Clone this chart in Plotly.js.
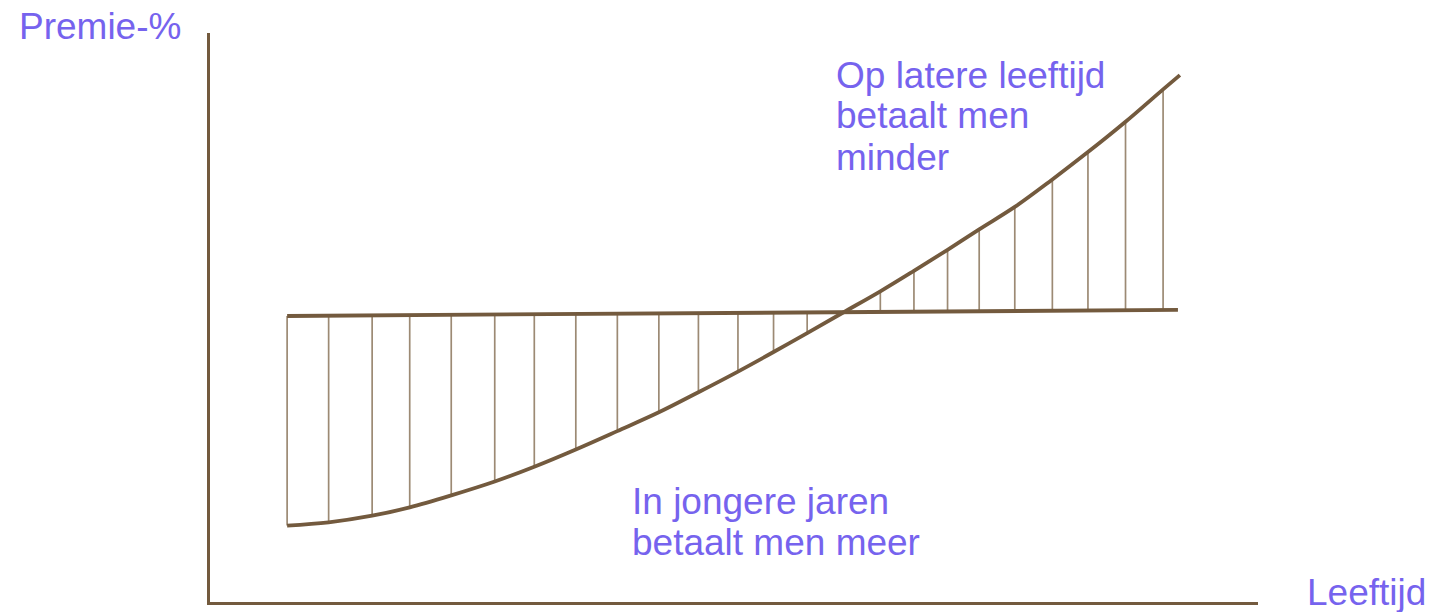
<!DOCTYPE html>
<html>
<head>
<meta charset="utf-8">
<script src="https://cdn.plot.ly/plotly-3.0.1.min.js"></script>
<style>
    body { margin: 0; background: #ffffff; }
    #chart { width: 1437px; height: 612px; }
</style>
</head>
<body>
<div id="chart"></div>
<script>
// premium curve (age in years, premium %)
const ages = [19.9, 22.0, 24.2, 26.1, 28.2, 30.4, 32.4, 34.5, 36.6, 38.7, 40.7, 42.7, 44.5, 46.2,
              48.0, 49.9, 51.6, 53.3, 54.9, 56.7, 58.6, 60.4, 62.3, 64.2, 65.05];
const premie = [4.03, 4.20, 4.55, 4.99, 5.62, 6.35, 7.13, 8.04, 9.01, 10.00, 11.06, 12.15, 13.18, 14.18,
                15.25, 16.38, 17.46, 18.57, 19.65, 20.83, 22.28, 23.72, 25.32, 27.03, 27.78];

// flat (average) premium line
const levelAges = [19.9, 64.95];
const level = [15.08, 15.40];

// ages where the hatch lines are drawn
const hatchAges = [19.9, 22.0, 24.2, 26.1, 28.2, 30.4, 32.4, 34.5, 36.6, 38.7, 40.7, 42.7, 44.5, 46.2,
                   49.9, 51.6, 53.3, 54.9, 56.7, 58.6, 60.4, 62.3, 64.2];

// texts
const yLabel = "Premie-%";
const xLabel = "Leeftijd";
const laterText = ["Op latere leeftijd", "betaalt men", "minder"];
const youngText = ["In jongere jaren", "betaalt men meer"];

const brown = "#735a3e";
const hatchColor = "#9c8a74";
const textColor = "#7663ee";

// flat line value at a given age
function levelAt(a)
{
    let t = (a - levelAges[0]) / (levelAges[1] - levelAges[0]);
    return level[0] + t * (level[1] - level[0]);
}

// build the hatch segments, separated by nulls
let hx = [];
let hy = [];
hatchAges.forEach(a => {
    let i = ages.indexOf(a);
    hx.push(a, a, null);
    hy.push(premie[i], levelAt(a), null);
});

let hatch = {
    x: hx, y: hy, mode: "lines", type: "scatter",
    line: {color: hatchColor, width: 1.7},
    hoverinfo: "skip"
};

let flat = {
    x: levelAges, y: level, mode: "lines", type: "scatter",
    line: {color: brown, width: 3.8}
};

let curve = {
    x: ages, y: premie, mode: "lines", type: "scatter",
    line: {color: brown, width: 3.8, shape: "spline", smoothing: 1}
};

// plot area in page pixels
const areaLeft = 210, areaRight = 1258, areaTop = 33, areaBottom = 602;

// page pixel -> paper coordinates for the text
function px(x) { return (x - areaLeft) / (areaRight - areaLeft); }
function py(y) { return (areaBottom - y) / (areaBottom - areaTop); }

function label(text, x, y)
{
    return {
        text: text, xref: "paper", yref: "paper",
        x: px(x), y: py(y), xanchor: "left", yanchor: "middle",
        showarrow: false,
        font: {family: "Liberation Sans, Arial, sans-serif", size: 37, color: textColor}
    };
}

let annotations = [
    label(yLabel, 17, 26.5),
    label(xLabel, 1305, 592)
];
laterText.forEach((t, i) => annotations.push(label(t, 834, 75 + i * 41)));
youngText.forEach((t, i) => annotations.push(label(t, 630, 501.5 + i * 41)));

let layout = {
    width: 1437,
    height: 612,
    margin: {l: areaLeft, r: 1437 - areaRight, t: areaTop, b: 612 - areaBottom, pad: 0},
    paper_bgcolor: "#ffffff",
    plot_bgcolor: "#ffffff",
    showlegend: false,
    xaxis: {
        range: [16, 69], showline: true, linecolor: brown, linewidth: 3,
        showgrid: false, zeroline: false, showticklabels: false, ticks: ""
    },
    yaxis: {
        range: [0, 30], showline: true, linecolor: brown, linewidth: 3,
        showgrid: false, zeroline: false, showticklabels: false, ticks: ""
    },
    annotations: annotations
};

Plotly.newPlot("chart", [hatch, flat, curve], layout, {displayModeBar: false, staticPlot: true});
</script>
</body>
</html>
